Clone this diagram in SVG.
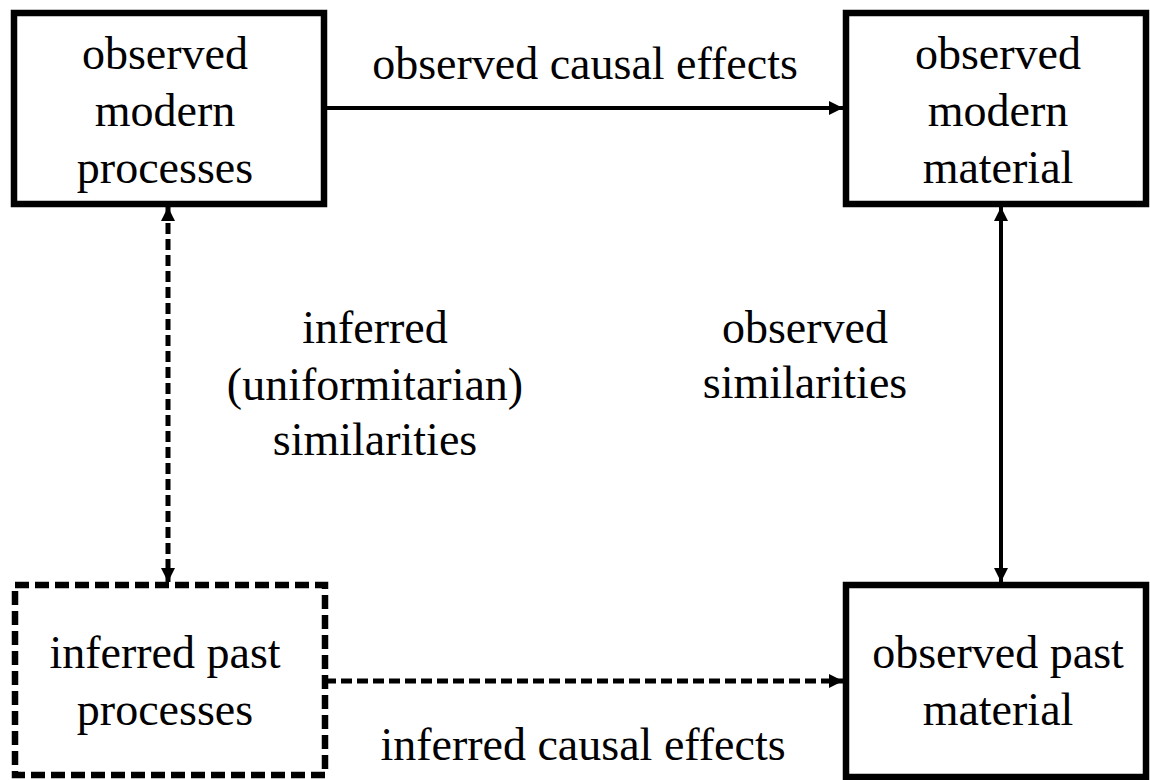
<svg xmlns="http://www.w3.org/2000/svg" width="1150" height="780" viewBox="0 0 1150 780">
<style>
.box{fill:#fff;stroke:#000;stroke-width:6.5}
.dbox{fill:#fff;stroke:#000;stroke-width:6.5;stroke-dasharray:14 6}
.t{font-family:"Liberation Serif","Times New Roman",serif;font-size:46px;fill:#000;text-anchor:middle}
.ln{stroke:#000;stroke-width:4;fill:none}
.dl{stroke:#000;stroke-width:5;fill:none;stroke-dasharray:11 5}
</style>
<defs>
<marker id="ah" viewBox="0 0 10 10" refX="10" refY="5" markerWidth="14" markerHeight="14" orient="auto-start-reverse" markerUnits="userSpaceOnUse">
<path d="M0,0 L10,5 L0,10 z" fill="#000"/>
</marker>
</defs>
<rect width="1150" height="780" fill="#fff"/>
<g id="connectors">
<line class="ln" x1="327" y1="108" x2="843" y2="108" marker-end="url(#ah)"/>
<line class="dl" x1="325" y1="681" x2="843" y2="681" marker-end="url(#ah)"/>
<line class="dl" x1="168" y1="207" x2="168" y2="582" marker-start="url(#ah)" marker-end="url(#ah)"/>
<line class="ln" x1="1001" y1="207" x2="1001" y2="582" marker-start="url(#ah)" marker-end="url(#ah)"/>
</g>
<g id="lbl-obs-causal"><text class="t" x="585" y="79">observed causal effects</text></g>
<g id="lbl-inf-causal"><text class="t" x="583" y="760">inferred causal effects</text></g>
<g id="lbl-inf-sim"><text class="t" x="375" y="343">inferred</text><text class="t" x="375" y="400">(uniformitarian)</text><text class="t" x="375" y="455">similarities</text></g>
<g id="lbl-obs-sim"><text class="t" x="805" y="343">observed</text><text class="t" x="805" y="398">similarities</text></g>
<g id="node-omp">
<rect class="box" x="14" y="13" width="310" height="191"/>
<text class="t" x="165" y="69">observed</text><text class="t" x="165" y="126">modern</text><text class="t" x="165" y="183">processes</text>
</g>
<g id="node-omm">
<rect class="box" x="846" y="13" width="300" height="191"/>
<text class="t" x="998" y="69">observed</text><text class="t" x="998" y="126">modern</text><text class="t" x="998" y="183">material</text>
</g>
<g id="node-ipp">
<rect class="dbox" x="15" y="585" width="310" height="190"/>
<text class="t" x="165" y="668">inferred past</text><text class="t" x="165" y="725">processes</text>
</g>
<g id="node-opm">
<rect class="box" x="846" y="585" width="300" height="192"/>
<text class="t" x="998" y="668">observed past</text><text class="t" x="998" y="725">material</text>
</g>
</svg>
